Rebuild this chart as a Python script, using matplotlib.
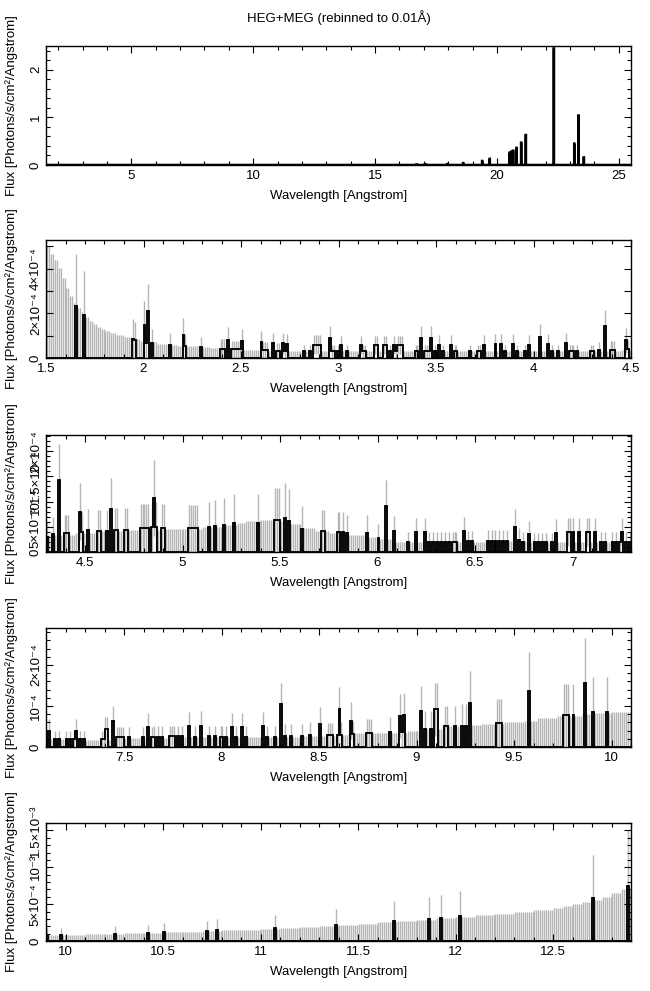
import numpy as np
import matplotlib
matplotlib.use('Agg')
import matplotlib.pyplot as plt
from matplotlib.ticker import MultipleLocator, FixedLocator, FixedFormatter, FuncFormatter

plt.rcParams['font.family'] = ['Liberation Sans', 'DejaVu Sans']

# ---------------- data ----------------
BIN = 0.01
GRID_LO, GRID_HI = 1.5, 25.5

# one-count error level (units of 1e-4 photons/s/cm^2/A), read at these wavelengths
env_wl = [1.50, 1.52, 1.54, 1.56, 1.58, 1.60, 1.62, 1.64, 1.66, 1.68, 1.70, 1.72, 1.74, 1.76,
          1.78, 1.80, 1.83, 1.86, 1.90, 1.94, 1.98, 2.02, 2.07, 2.12, 2.17, 2.22, 2.28, 2.34,
          2.40, 2.46, 2.52, 2.60, 2.80, 3.50, 4.30, 4.45, 4.55, 4.70, 4.90, 5.10, 5.22, 5.28,
          5.32, 5.40, 5.48, 5.55, 5.62, 5.68, 5.75, 5.85, 5.95, 6.00, 6.08, 6.55, 6.78, 7.10,
          7.30, 7.50, 7.80, 8.20, 8.40, 8.50, 8.58, 8.65, 8.80, 8.95, 9.05, 9.13, 9.25, 9.33,
          9.45, 9.55, 9.62, 9.72, 9.85, 9.90, 10.0, 10.1, 10.2, 10.3, 10.4, 10.5, 10.6, 10.7,
          10.8, 10.9, 11.0, 11.1, 11.2, 11.3, 11.4, 11.5, 11.6, 11.7, 11.8, 11.9, 12.0, 12.1,
          12.2, 12.3, 12.4, 12.5, 12.55, 12.6, 12.65, 12.7, 12.75, 12.8, 12.85, 12.9]
env_val = [5.0, 4.65, 4.38, 4.03, 3.6, 3.15, 2.8, 2.48, 2.25, 2.05, 1.85, 1.68, 1.52, 1.40,
           1.30, 1.22, 1.10, 1.02, 0.94, 0.87, 0.78, 0.71, 0.63, 0.59, 0.56, 0.52, 0.48, 0.45,
           0.40, 0.37, 0.34, 0.32, 0.30, 0.30, 0.33, 0.38, 0.41, 0.44, 0.46, 0.49, 0.53, 0.58,
           0.62, 0.63, 0.61, 0.55, 0.47, 0.42, 0.38, 0.34, 0.30, 0.26, 0.20, 0.22, 0.19, 0.20,
           0.18, 0.22, 0.24, 0.25, 0.26, 0.28, 0.30, 0.33, 0.35, 0.38, 0.44, 0.50, 0.53, 0.56,
           0.60, 0.64, 0.70, 0.76, 0.80, 0.82, 0.86, 0.92, 0.97, 1.03, 1.10, 1.17, 1.25, 1.34,
           1.44, 1.55, 1.67, 1.80, 1.93, 2.07, 2.20, 2.36, 2.53, 2.70, 2.90, 3.08, 3.27, 3.47,
           3.68, 3.92, 4.20, 4.50, 4.75, 5.00, 5.30, 5.60, 6.00, 6.50, 7.00, 7.50]

# detected bins: wavelength (bin start), flux (1e-4 units), counts
line_wl = [1.65, 1.69, 1.94, 1.95, 2.00, 2.01, 2.02, 2.04, 2.13, 2.20, 2.21, 2.29, 2.39, 2.40,
           2.41, 2.43, 2.45, 2.46, 2.47, 2.48, 2.49, 2.50, 2.60, 2.61, 2.62, 2.63, 2.66, 2.68,
           2.69, 2.71, 2.72, 2.73, 2.82, 2.85, 2.87, 2.88, 2.89, 2.90, 2.95, 2.96, 2.97, 2.99,
           3.01, 3.04, 3.11, 3.12, 3.13, 3.18, 3.19, 3.23, 3.24, 3.26, 3.28, 3.29, 3.30, 3.31,
           3.32, 3.39, 3.40, 3.42, 3.44, 3.45, 3.46, 3.47, 3.49, 3.51, 3.53, 3.57, 3.59, 3.60,
           3.67, 3.71, 3.72, 3.74, 3.80, 3.83, 3.85, 3.89, 3.91, 3.95, 3.97, 4.03, 4.07, 4.09,
           4.12, 4.16, 4.18, 4.19, 4.20, 4.22, 4.29, 4.30, 4.33, 4.36, 4.39, 4.40, 4.41, 4.47,
           4.48, 4.51, 4.56, 4.57, 4.61, 4.63, 4.65, 4.66, 4.70, 4.71, 4.78, 4.79, 4.80, 4.81,
           4.82, 4.84, 4.85, 4.86, 4.89, 4.90, 5.03, 5.04, 5.05, 5.06, 5.07, 5.13, 5.16, 5.21,
           5.26, 5.38, 5.47, 5.48, 5.49, 5.52, 5.54, 5.61, 5.71, 5.72, 5.79, 5.80, 5.82, 5.84,
           5.94, 6.00, 6.04, 6.08, 6.15, 6.19, 6.24, 6.26, 6.28, 6.30, 6.32, 6.34, 6.36, 6.38,
           6.39, 6.40, 6.44, 6.46, 6.48, 6.56, 6.58, 6.60, 6.62, 6.64, 6.66, 6.70, 6.72, 6.74,
           6.77, 6.80, 6.82, 6.84, 6.86, 6.89, 6.91, 6.97, 6.98, 7.00, 7.03, 7.07, 7.08, 7.11,
           7.14, 7.16, 7.20, 7.22, 7.24, 7.25, 7.27, 7.29, 7.38, 7.39, 7.40, 7.41, 7.44, 7.46,
           7.47, 7.48, 7.49, 7.52, 7.59, 7.62, 7.64, 7.65, 7.67, 7.69, 7.73, 7.74, 7.75, 7.77,
           7.79, 7.83, 7.86, 7.89, 7.93, 7.96, 7.99, 8.00, 8.02, 8.05, 8.07, 8.10, 8.12, 8.21,
           8.23, 8.27, 8.30, 8.32, 8.35, 8.41, 8.45, 8.50, 8.54, 8.55, 8.56, 8.59, 8.60, 8.61,
           8.66, 8.67, 8.74, 8.75, 8.76, 8.86, 8.91, 8.92, 8.93, 9.02, 9.04, 9.07, 9.09, 9.10,
           9.14, 9.15, 9.19, 9.23, 9.25, 9.27, 9.41, 9.42, 9.43, 9.57, 9.75, 9.76, 9.77, 9.80,
           9.86, 9.90, 9.97, 10.25, 10.42, 10.50, 10.72, 10.77, 11.07, 11.38, 11.68, 11.86,
           11.92, 12.02, 12.70, 12.88]
line_flux = [2.33, 1.95, 0.87, 0.81, 1.50, 0.66, 2.10, 0.66, 0.57, 1.05, 0.53, 0.48, 0.42, 0.42,
             0.42, 0.81, 0.39, 0.39, 0.39, 0.39, 0.39, 0.75, 0.70, 0.36, 0.36, 0.36, 0.66, 0.33,
             0.33, 0.66, 0.33, 0.63, 0.30, 0.30, 0.60, 0.60, 0.60, 0.60, 0.90, 0.30, 0.30, 0.30,
             0.57, 0.30, 0.57, 0.30, 0.30, 0.57, 0.57, 0.57, 0.57, 0.30, 0.57, 0.30, 0.57, 0.57,
             0.57, 0.30, 0.30, 0.90, 0.30, 0.30, 0.30, 0.90, 0.30, 0.60, 0.30, 0.60, 0.30, 0.30,
             0.30, 0.30, 0.30, 0.60, 0.63, 0.63, 0.30, 0.63, 0.30, 0.30, 0.60, 0.96, 0.63, 0.30,
             0.30, 0.66, 0.30, 0.30, 0.30, 0.30, 0.30, 0.30, 0.35, 1.43, 0.37, 0.37, 0.37, 0.80,
             0.40, 0.43, 0.42, 0.42, 0.42, 0.86, 0.44, 0.44, 0.44, 0.44, 0.48, 0.48, 0.48, 0.48,
             0.48, 0.50, 1.07, 0.50, 0.48, 0.48, 0.47, 0.47, 0.47, 0.47, 0.47, 0.50, 0.52, 0.54,
             0.58, 0.58, 0.63, 0.63, 0.63, 0.68, 0.62, 0.46, 0.42, 0.42, 0.40, 0.40, 0.40, 0.37,
             0.37, 0.28, 0.91, 0.42, 0.20, 0.40, 0.40, 0.20, 0.20, 0.20, 0.20, 0.20, 0.20, 0.20,
             0.20, 0.20, 0.41, 0.21, 0.21, 0.22, 0.22, 0.22, 0.22, 0.22, 0.22, 0.50, 0.24, 0.20,
             0.36, 0.19, 0.19, 0.19, 0.19, 0.19, 0.38, 0.40, 0.40, 0.40, 0.40, 0.40, 0.40, 0.40,
             0.20, 0.20, 0.20, 0.20, 0.20, 0.40, 0.20, 0.20, 0.20, 0.20, 0.43, 0.43, 0.64, 0.24,
             0.24, 0.24, 0.24, 0.24, 0.24, 0.49, 0.24, 0.25, 0.25, 0.25, 0.26, 0.26, 0.26, 0.26,
             0.26, 0.50, 0.25, 0.52, 0.26, 0.26, 0.25, 0.25, 0.25, 0.48, 0.25, 0.48, 0.25, 0.50,
             0.25, 0.25, 1.04, 0.28, 0.28, 0.28, 0.30, 0.57, 0.29, 0.29, 0.29, 0.30, 0.92, 0.30,
             0.64, 0.32, 0.34, 0.34, 0.34, 0.36, 0.75, 0.36, 0.77, 0.87, 0.44, 0.44, 0.92, 0.92,
             0.50, 0.50, 0.50, 0.52, 0.52, 1.08, 0.59, 0.59, 0.59, 1.36, 0.77, 0.77, 0.77, 0.77,
             1.56, 0.85, 0.85, 1.00, 1.10, 1.23, 1.36, 1.50, 1.77, 2.18, 2.73, 3.00,
             3.14, 3.36, 5.86, 7.50]
line_n = [1, 1, 1, 1, 2, 1, 3, 1, 1, 2, 1, 1, 1, 1,
          1, 2, 1, 1, 1, 1, 1, 2, 2, 1, 1, 1, 2, 1,
          1, 2, 1, 2, 1, 1, 2, 2, 2, 2, 3, 1, 1, 1,
          2, 1, 2, 1, 1, 2, 2, 2, 2, 1, 2, 1, 2, 2,
          2, 1, 1, 3, 1, 1, 1, 3, 1, 2, 1, 2, 1, 1,
          1, 1, 1, 2, 2, 2, 1, 2, 1, 1, 2, 3, 2, 1,
          1, 2, 1, 1, 1, 1, 1, 1, 1, 4, 1, 1, 1, 2,
          1, 1, 1, 1, 1, 2, 1, 1, 1, 1, 1, 1, 1, 1,
          1, 1, 2, 1, 1, 1, 1, 1, 1, 1, 1, 1, 1, 1,
          1, 1, 1, 1, 1, 1, 1, 1, 1, 1, 1, 1, 1, 1,
          1, 1, 3, 2, 1, 2, 2, 1, 1, 1, 1, 1, 1, 1,
          1, 1, 2, 1, 1, 1, 1, 1, 1, 1, 1, 2, 1, 1,
          2, 1, 1, 1, 1, 1, 2, 2, 2, 2, 2, 2, 2, 2,
          1, 1, 1, 1, 1, 2, 1, 1, 1, 1, 2, 2, 3, 1,
          1, 1, 1, 1, 1, 2, 1, 1, 1, 1, 1, 1, 1, 1,
          1, 2, 1, 2, 1, 1, 1, 1, 1, 2, 1, 2, 1, 2,
          1, 1, 4, 1, 1, 1, 1, 2, 1, 1, 1, 1, 3, 1,
          2, 1, 1, 1, 1, 1, 2, 1, 2, 2, 1, 1, 2, 2,
          1, 1, 1, 1, 1, 2, 1, 1, 1, 2, 1, 1, 1, 1,
          2, 1, 1, 1, 1, 1, 1, 1, 1, 1, 1, 1,
          1, 1, 1, 1]

# strong long-wavelength lines (photons/s/cm^2/A)
strong_wl = [16.70, 17.05, 17.97, 18.61, 19.39, 19.70, 20.52, 20.59, 20.66, 20.80, 20.99,
             21.18, 22.33, 23.17, 23.34, 23.56]
strong_flux = [0.008, 0.015, 0.02, 0.04, 0.085, 0.13, 0.26, 0.28, 0.30, 0.36, 0.47,
               0.63, 2.45, 0.45, 1.04, 0.16]

# ---------------- build binned arrays ----------------
nbin = int(round((GRID_HI - GRID_LO) / BIN))
edges = GRID_LO + BIN * np.arange(nbin + 1)
centers = edges[:-1] + BIN / 2
k = np.searchsorted(np.array(env_wl), edges[:-1] + 1e-7, side='right') - 1
unit = np.array(env_val)[np.clip(k, 0, len(env_val) - 1)] * 1e-4

flux = np.zeros(nbin)
err_lo = np.zeros(nbin)
err_hi = unit.copy()
for w, f, n in zip(line_wl, line_flux, line_n):
    i = int(round((w - GRID_LO) / BIN))
    fv = f * 1e-4
    e = fv / np.sqrt(n)
    flux[i] = fv
    err_lo[i] = max(fv - e, 0.0)
    err_hi[i] = fv + e
for w, f in zip(strong_wl, strong_flux):
    i = int(round((w - GRID_LO) / BIN))
    flux[i] = f
    err_lo[i] = f
    err_hi[i] = f

# ---------------- figure ----------------
W, H = 650, 991
fig = plt.figure(figsize=(W / 100, H / 100), dpi=100)

FS = 9.5
GRAY = '#b5b5b5'

panels = [
    dict(top=46, bot=165, xlim=(1.5, 25.5), ylim=(0, 2.5), xmaj=5, xmin=1,
         yt=[0, 1, 2], yl=['0', '1', '2'], ymin=0.2, errs=False),
    dict(top=240, bot=358, xlim=(1.5, 4.5), ylim=(0, 5.29e-4), xmaj=0.5, xmin=0.1,
         yt=[0, 1e-4, 2e-4, 3e-4, 4e-4, 5e-4],
         yl=['0', '', '2×10⁻⁴', '', '4×10⁻⁴', ''], ymin=None, errs=True),
    dict(top=435, bot=552, xlim=(4.3, 7.3), ylim=(0, 2.32e-4), xmaj=0.5, xmin=0.1,
         yt=[0, 0.5e-4, 1e-4, 1.5e-4, 2e-4],
         yl=['0', '5×10⁻⁵', '10⁻⁴', '1.5×10⁻⁴', '2×10⁻⁴'], ymin=1e-5, errs=True),
    dict(top=628, bot=747, xlim=(7.1, 10.1), ylim=(0, 2.9e-4), xmaj=0.5, xmin=0.1,
         yt=[0, 1e-4, 2e-4], yl=['0', '10⁻⁴', '2×10⁻⁴'], ymin=2e-5, errs=True),
    dict(top=823, bot=941, xlim=(9.9, 12.9), ylim=(0, 1.6e-3), xmaj=0.5, xmin=0.1,
         yt=[0, 5e-4, 10e-4, 15e-4], yl=['0', '5×10⁻⁴', '10⁻³', '1.5×10⁻³'],
         ymin=1e-4, errs=True),
]

L, R = 46, 631
for p in panels:
    ax = fig.add_axes([L / W, 1 - p['bot'] / H, (R - L) / W, (p['bot'] - p['top']) / H])
    x0, x1 = p['xlim']
    i0 = max(int(np.floor((x0 - GRID_LO) / BIN)) - 1, 0)
    i1 = min(int(np.ceil((x1 - GRID_LO) / BIN)) + 1, nbin)
    if p['errs']:
        ax.vlines(centers[i0:i1], err_lo[i0:i1], err_hi[i0:i1], color=GRAY, lw=1.0, zorder=1)
        ax.stairs(flux[i0:i1], edges[i0:i1 + 1], color='black', lw=1.35, zorder=2)
    else:
        ax.stairs(flux[i0:i1], edges[i0:i1 + 1], color='black', lw=1.8, zorder=2)
        ax.axhline(0, color='black', lw=2.2, zorder=3)
    ax.set_xlim(x0, x1)
    ax.set_ylim(*p['ylim'])
    ax.xaxis.set_major_locator(MultipleLocator(p['xmaj']))
    ax.xaxis.set_minor_locator(MultipleLocator(p['xmin']))
    ax.xaxis.set_major_formatter(FuncFormatter(lambda v, pos: '%g' % round(v, 3)))
    ax.yaxis.set_major_locator(FixedLocator(p['yt']))
    ax.yaxis.set_major_formatter(FixedFormatter(p['yl']))
    if p['ymin']:
        ax.yaxis.set_minor_locator(MultipleLocator(p['ymin']))
    ax.tick_params(which='both', direction='in', top=True, right=True, width=0.8,
                   labelsize=FS)
    ax.tick_params(which='major', length=5)
    ax.tick_params(which='minor', length=3)
    ax.tick_params(axis='y', labelrotation=90, pad=3)
    for lbl in ax.get_yticklabels():
        lbl.set_va('center')
    for s in ax.spines.values():
        s.set_linewidth(1.0)
    ax.set_xlabel('Wavelength [Angstrom]', fontsize=FS, labelpad=6)
    yc = 1 - (p['top'] + p['bot']) / 2 / H
    fig.text(12 / W, yc, 'Flux [Photons/s/cm²/Angstrom]', rotation=90,
             ha='center', va='center', fontsize=FS)

fig.text((L + R) / 2 / W, 1 - 18 / H, 'HEG+MEG (rebinned to 0.01Å)', ha='center',
         va='center', fontsize=FS)

fig.savefig('out.png', dpi=100)
